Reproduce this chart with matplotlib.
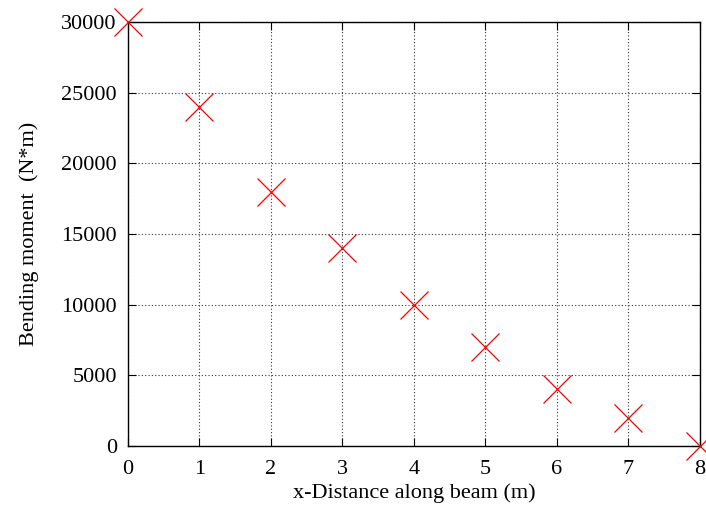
import matplotlib
matplotlib.use("Agg")
import matplotlib.pyplot as plt

# beam position (m) and bending moment (N*m)
x_pos = [0, 1, 2, 3, 4, 5, 6, 7, 8]
moment = [30000, 24000, 18000, 14000, 10000, 7000, 4000, 2000, 0]

x_ticks = [0, 1, 2, 3, 4, 5, 6, 7, 8]
y_ticks = [0, 5000, 10000, 15000, 20000, 25000, 30000]

plt.rcParams['font.family'] = ['Liberation Serif', 'DejaVu Serif']
plt.rcParams['font.size'] = 16

fig = plt.figure(figsize=(7.06, 5.15), dpi=100)
ax = fig.add_axes([0.1813, 0.134, 0.8102, 0.8233])

ax.plot(x_pos, moment, linestyle='none', marker='x', markersize=20,
        markeredgewidth=0.9, color='red', clip_on=False, zorder=5)

ax.set_xlim(0, 8)
ax.set_ylim(0, 30000)
ax.set_xticks(x_ticks)
ax.set_yticks(y_ticks)
ax.grid(True, linestyle=(0, (1, 2)), color='#333333', linewidth=0.8)
ax.tick_params(direction='in', top=True, right=True, length=6, width=0.8)
ax.tick_params(axis='x', pad=10)
ax.tick_params(axis='y', pad=8)
for s in ax.spines.values():
    s.set_linewidth(1.0)

ax.set_xlabel('x-Distance along beam (m)', labelpad=3)
ax.set_ylabel('Bending moment  (N*m)', labelpad=16)

fig.savefig('out.png', dpi=100)
